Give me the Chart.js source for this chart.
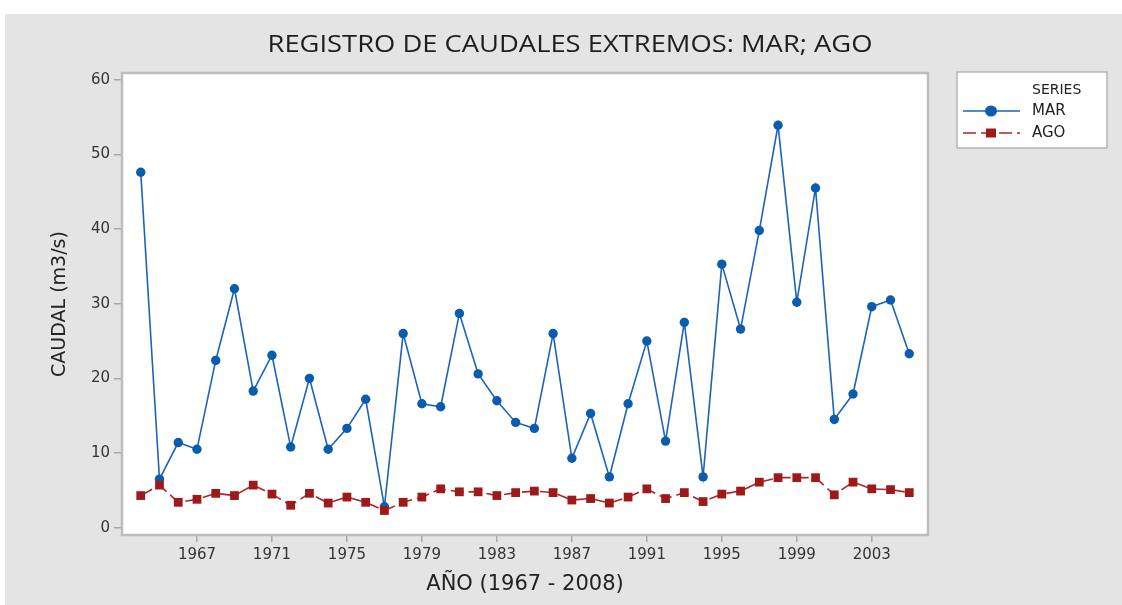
<!DOCTYPE html>
<html>
<head>
<meta charset="utf-8">
<title>Registro de caudales extremos</title>
<script src="https://cdn.jsdelivr.net/npm/chart.js@4/dist/chart.umd.min.js"></script>
<style>
  html, body { margin: 0; padding: 0; background: #ffffff; }
  #wrap { position: absolute; left: 5px; top: 14px; width: 1117px; height: 591px; background: #e4e4e4; }
  canvas { display: block; }
</style>
</head>
<body>
<div id="wrap"><canvas id="chart" width="1117" height="591"></canvas></div>
<script>
// Años de registro
const years = [1964, 1965, 1966, 1967, 1968, 1969, 1970, 1971, 1972, 1973,
               1974, 1975, 1976, 1977, 1978, 1979, 1980, 1981, 1982, 1983,
               1984, 1985, 1986, 1987, 1988, 1989, 1990, 1991, 1992, 1993,
               1994, 1995, 1996, 1997, 1998, 1999, 2000, 2001, 2002, 2003,
               2004, 2005];

// Caudal de marzo (m3/s)
const marValues = [47.6, 6.5, 11.4, 10.5, 22.4, 32.0, 18.3, 23.1, 10.8, 20.0,
                   10.5, 13.3, 17.2, 2.8, 26.0, 16.6, 16.2, 28.7, 20.6, 17.0,
                   14.1, 13.3, 26.0, 9.3, 15.3, 6.8, 16.6, 25.0, 11.6, 27.5,
                   6.8, 35.3, 26.6, 39.8, 53.9, 30.2, 45.5, 14.5, 17.9, 29.6,
                   30.5, 23.3];

// Caudal de agosto (m3/s)
const agoValues = [4.3, 5.7, 3.4, 3.8, 4.6, 4.3, 5.7, 4.5, 3.0, 4.6,
                   3.3, 4.1, 3.4, 2.3, 3.4, 4.1, 5.2, 4.8, 4.8, 4.3,
                   4.7, 4.9, 4.7, 3.7, 3.9, 3.3, 4.1, 5.2, 3.9, 4.7,
                   3.5, 4.5, 4.9, 6.1, 6.7, 6.7, 6.7, 4.4, 6.1, 5.2,
                   5.1, 4.7];

// Etiquetas de los ejes
const xTickYears = [1967, 1971, 1975, 1979, 1983, 1987, 1991, 1995, 1999, 2003];
const yTickValues = [0, 10, 20, 30, 40, 50, 60];

const seriesNames = ['MAR', 'AGO'];
const titleText = 'REGISTRO DE CAUDALES EXTREMOS: MAR; AGO';

const TITLE_FONT = '"Open Sans", "Noto Sans", sans-serif';
const FONT = '"DejaVu Sans", "Noto Sans", sans-serif';
const MAR_COLOR = '#0b5cad';
const AGO_COLOR = '#9e1a1a';
const FRAME_COLOR = '#bdbdbd';

const toPoints = vals => years.map((yr, i) => ({ x: yr, y: vals[i] }));

// Fondo blanco y marco del área de trazado
const plotFrame = {
  id: 'plotFrame',
  beforeDraw(chart) {
    const { ctx, chartArea: a } = chart;
    ctx.save();
    ctx.fillStyle = '#ffffff';
    ctx.fillRect(a.left, a.top, a.right - a.left, a.bottom - a.top);
    ctx.restore();
  },
  afterDraw(chart) {
    const { ctx, chartArea: a } = chart;
    ctx.save();
    ctx.strokeStyle = FRAME_COLOR;
    ctx.lineWidth = 2.5;
    ctx.strokeRect(a.left, a.top, a.right - a.left, a.bottom - a.top);
    ctx.restore();
  }
};

// Título condensado
const condensedTitle = {
  id: 'condensedTitle',
  afterDraw(chart) {
    const { ctx } = chart;
    ctx.save();
    ctx.font = '24px ' + TITLE_FONT;
    ctx.fillStyle = '#1e1e1e';
    ctx.textBaseline = 'middle';
    ctx.textAlign = 'center';
    const w = ctx.measureText(titleText).width;
    const sx = 605 / w;
    ctx.translate(565, 31);
    ctx.scale(sx, 1);
    ctx.fillText(titleText, 0, 0);
    ctx.restore();
  }
};

// Leyenda en recuadro a la derecha
const boxLegend = {
  id: 'boxLegend',
  afterDraw(chart) {
    const { ctx } = chart;
    const bx = 952, by = 58, bw = 150, bh = 76;
    ctx.save();
    ctx.fillStyle = '#ffffff';
    ctx.fillRect(bx, by, bw, bh);
    ctx.strokeStyle = '#b5b5b5';
    ctx.lineWidth = 1.5;
    ctx.strokeRect(bx, by, bw, bh);

    ctx.font = '14px ' + FONT;
    ctx.fillStyle = '#222222';
    ctx.textBaseline = 'middle';
    ctx.textAlign = 'left';
    ctx.fillText('SERIES', 1027, 76);

    const rows = [97, 119];
    chart.data.datasets.forEach((ds, i) => {
      const y = rows[i];
      ctx.save();
      ctx.strokeStyle = ds.borderColor;
      ctx.lineWidth = ds.borderWidth;
      if (ds.borderDash) ctx.setLineDash(ds.borderDash);
      ctx.beginPath();
      ctx.moveTo(958, y);
      ctx.lineTo(1015, y);
      ctx.stroke();
      ctx.restore();
      ctx.fillStyle = ds.pointBackgroundColor;
      if (ds.pointStyle === 'rect') {
        ctx.fillRect(986 - 5, y - 4.5, 10, 9);
      } else {
        ctx.beginPath();
        ctx.ellipse(986, y, 6, 5.5, 0, 0, Math.PI * 2);
        ctx.fill();
      }
      ctx.fillStyle = '#222222';
      ctx.font = '15px ' + FONT;
      ctx.fillText(ds.label, 1027, y);
    });
    ctx.restore();
  }
};

new Chart(document.getElementById('chart'), {
  type: 'line',
  data: {
    datasets: [
      {
        label: seriesNames[0],
        data: toPoints(marValues),
        borderColor: '#1c64b8',
        backgroundColor: MAR_COLOR,
        borderWidth: 1.6,
        pointStyle: 'circle',
        pointRadius: 4.7,
        pointBackgroundColor: MAR_COLOR,
        pointBorderColor: MAR_COLOR,
        pointBorderWidth: 0,
        tension: 0,
        order: 2
      },
      {
        label: seriesNames[1],
        data: toPoints(agoValues),
        borderColor: '#b02525',
        backgroundColor: AGO_COLOR,
        borderWidth: 1.6,
        borderDash: [13, 5],
        pointStyle: 'rect',
        pointRadius: 6.2,
        pointBackgroundColor: AGO_COLOR,
        pointBorderColor: AGO_COLOR,
        pointBorderWidth: 0,
        tension: 0,
        order: 1
      }
    ]
  },
  options: {
    responsive: false,
    devicePixelRatio: 1,
    animation: false,
    layout: { padding: { top: 59, right: 194, left: 0, bottom: 0 } },
    plugins: {
      legend: { display: false },
      title: { display: false },
      tooltip: { enabled: false }
    },
    scales: {
      x: {
        type: 'linear',
        min: 1963,
        max: 2006,
        afterFit(scale) { scale.height = 70; },
        afterBuildTicks(scale) { scale.ticks = xTickYears.map(v => ({ value: v })); },
        border: { display: false },
        grid: { drawOnChartArea: false, drawTicks: true, tickLength: 7, color: '#a8a8a8', lineWidth: 1.5 },
        ticks: {
          autoSkip: false,
          maxRotation: 0,
          padding: 4,
          color: '#333333',
          font: { family: FONT, size: 15 },
          callback: v => String(v)
        },
        title: {
          display: true,
          text: 'AÑO (1967 - 2008)',
          color: '#222222',
          font: { family: FONT, size: 21 },
          padding: { top: 0, bottom: 8 }
        }
      },
      y: {
        type: 'linear',
        min: -0.98,
        max: 60.9,
        afterFit(scale) { scale.width = 117; },
        afterBuildTicks(scale) { scale.ticks = yTickValues.map(v => ({ value: v })); },
        border: { display: false },
        grid: { drawOnChartArea: false, drawTicks: true, tickLength: 8, color: '#a8a8a8', lineWidth: 1.5 },
        ticks: {
          padding: 4,
          color: '#333333',
          font: { family: FONT, size: 15 }
        },
        title: {
          display: true,
          text: 'CAUDAL (m3/s)',
          color: '#222222',
          font: { family: FONT, size: 19 },
          padding: { top: 44, bottom: 0 }
        }
      }
    }
  },
  plugins: [plotFrame, condensedTitle, boxLegend]
});
</script>
</body>
</html>
